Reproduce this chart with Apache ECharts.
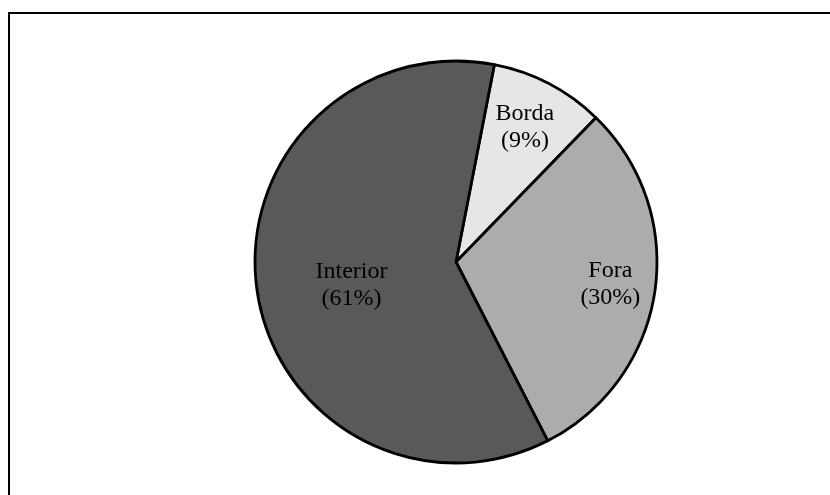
<!DOCTYPE html>
<html>
<head>
<meta charset="utf-8">
<script src="https://cdn.jsdelivr.net/npm/echarts@6/dist/echarts.min.js"></script>
<style>
html,body{margin:0;padding:0;background:#fff;}
#chart{width:830px;height:495px;}
</style>
</head>
<body>
<div id="chart"></div>
<script>
// Data
const categories = ['Borda', 'Fora', 'Interior'];
const values = [9.2, 30.2, 60.6];

// Styling (kept separate from data)
const sliceColors = { 'Borda': '#E7E6E6', 'Fora': '#AEABAB', 'Interior': '#595959' };
const labelOffsets = { 'Borda': [21, -43], 'Fora': [52, 7], 'Interior': [-2, 9] };

const chart = echarts.init(document.getElementById('chart'), null, { renderer: 'canvas' });

const seriesData = categories.map((name, i) => ({
  name: name,
  value: values[i],
  itemStyle: { color: sliceColors[name] },
  label: { offset: labelOffsets[name] }
}));

const option = {
  backgroundColor: '#ffffff',
  animation: false,
  graphic: [{
    type: 'rect',
    shape: { x: 9, y: 13, width: 900, height: 600 },
    style: { fill: 'none', stroke: '#000', lineWidth: 2 },
    silent: true,
    z: 100
  }],
  series: [{
    type: 'pie',
    center: [456, 262],
    radius: [0, 201],
    startAngle: 79,
    clockwise: true,
    avoidLabelOverlap: false,
    emphasis: { disabled: true },
    itemStyle: { borderColor: '#000', borderWidth: 2.8 },
    label: {
      show: true,
      position: 'inside',
      color: '#000',
      fontFamily: 'Liberation Serif',
      fontSize: 24,
      lineHeight: 27,
      align: 'center',
      formatter: p => p.name + '\n(' + Math.round(p.percent) + '%)'
    },
    labelLine: { show: false },
    data: seriesData
  }]
};
chart.setOption(option);
</script>
</body>
</html>
